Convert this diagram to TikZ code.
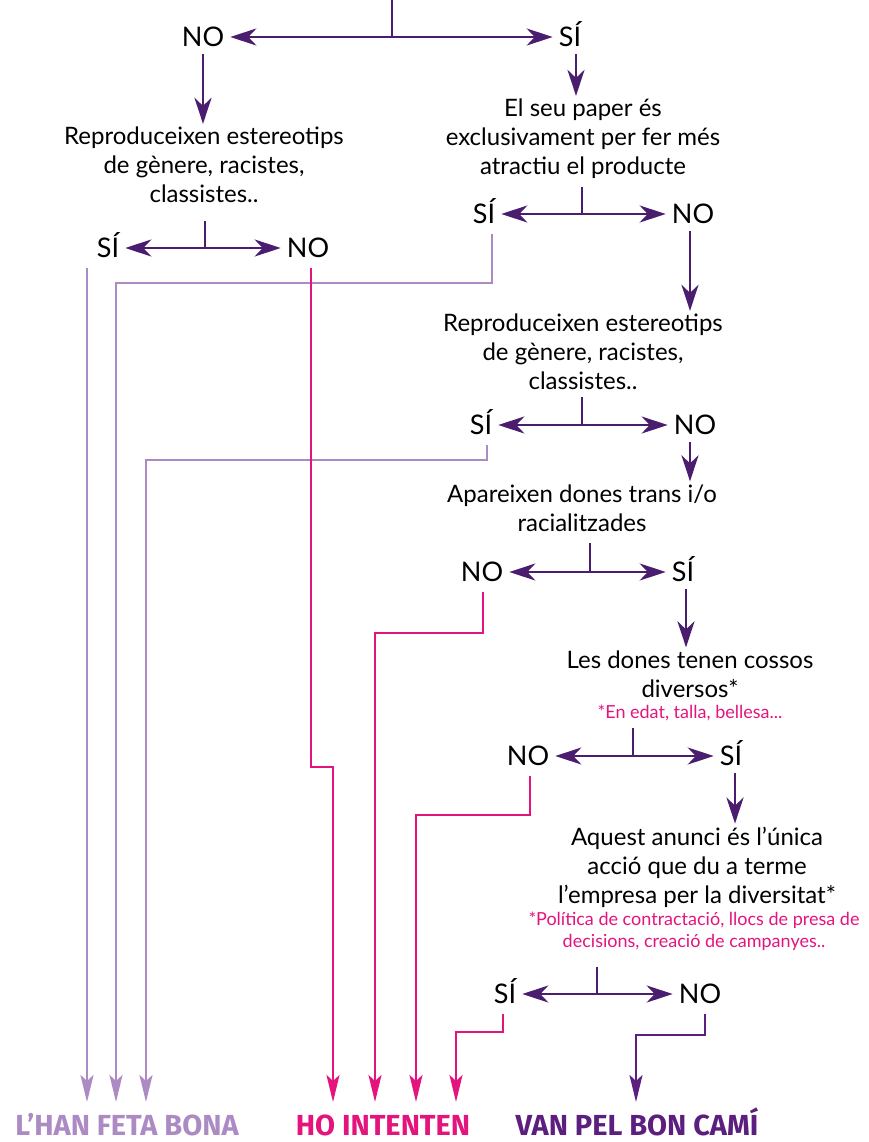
\documentclass[tikz,border=0pt]{standalone}
\usepackage{fontspec}
\setmainfont{Lato}
\newfontfamily\condfont{Fira Sans}
\usetikzlibrary{arrows.meta,calc}
\definecolor{dpurple}{HTML}{4A1D6E}
\definecolor{lpurple}{HTML}{AC8AC4}
\definecolor{hot}{HTML}{E4147E}
\definecolor{vpurple}{HTML}{5C1F80}
\tikzset{
  tipA/.tip={Stealth[length=26pt,width=17pt,inset=8pt]},
  tipB/.tip={Stealth[length=27pt,width=13pt,inset=6pt]},
  stem/.style={draw=dpurple,line width=2.8pt},
  arr/.style={draw=dpurple,line width=2.8pt,-tipA,shorten <=4pt,shorten >=3pt},
  fork/.style={draw=dpurple,line width=2.8pt,tipA-tipA,shorten <=3pt,shorten >=3pt},
  route/.style={line width=2.6pt,-tipB,shorten <=7pt},
  lp/.style={route,draw=lpurple},
  mg/.style={route,draw=hot},
  vp/.style={route,draw=vpurple},
  q/.style={font=\fontsize{24}{29}\selectfont,align=center,text=black,inner sep=0pt},
  yn/.style={font=\fontsize{27}{30}\selectfont,text height=19.5pt,text depth=0pt,inner sep=3pt},
  fn/.style={font=\fontsize{18}{22}\selectfont,align=center,text=hot,inner sep=0pt},
  res/.style={font=\condfont\bfseries\fontsize{29}{32}\selectfont,inner sep=0pt,text height=20pt,text depth=0pt,anchor=base}
}
\begin{document}
\begin{tikzpicture}[x=1pt,y=-1pt]
\useasboundingbox (0,0) rectangle (868,1142);

% ---- fork 1
\coordinate (top) at (392,0);
\coordinate (j1) at (392,37);
\node[yn] (n1) at (203,37) {NO};
\node[yn] (s1) at (570,37) {SÍ};
\draw[stem] (top) -- (j1);
\draw[fork] (n1) -- (s1);

% ---- left branch
\node[q] (t1) at (204,165) {Reproduceixen estereotips\\de gènere, racistes,\\classistes..};
\draw[arr] (n1.south) -- (n1.south |- t1.north);
\coordinate (j2) at (205,248);
\node[yn] (s2) at (108,248) {SÍ};
\node[yn] (n2) at (308,248) {NO};
\draw[stem] (j2) -- ++(0,-27);
\draw[fork] (s2) -- (n2);

% ---- right branch
\node[q] (t2) at (583,139) {El seu paper és\\exclusivament per fer més\\atractiu el producte};
\draw[arr] ([xshift=6pt]s1.south) -- ([xshift=6pt]s1.south |- t2.north);
\coordinate (j3) at (582,214);
\node[yn] (s3) at (484,214) {SÍ};
\node[yn] (n3) at (693,214) {NO};
\draw[stem] (j3) -- ++(0,-27);
\draw[fork] (s3) -- (n3);

\node[q] (t3) at (583,352) {Reproduceixen estereotips\\de gènere, racistes,\\classistes..};
\draw[arr] ([xshift=-3pt]n3.south) -- ([xshift=-3pt]n3.south |- t3.north);
\coordinate (j4) at (582,425);
\node[yn] (s4) at (481,425) {SÍ};
\node[yn] (n4) at (695,425) {NO};
\draw[stem] (j4) -- ++(0,-28);
\draw[fork] (s4) -- (n4);

\node[q] (t4) at (582,508) {Apareixen dones trans i/o\\racialitzades};
\draw[arr] ([xshift=-5pt]n4.south) -- ([xshift=-5pt]n4.south |- t4.north);
\coordinate (j5) at (590,572);
\node[yn] (n5) at (482,572) {NO};
\node[yn] (s5) at (683,572) {SÍ};
\draw[stem] (j5) -- ++(0,-29);
\draw[fork] (n5) -- (s5);

\node[q] (t5) at (690,674) {Les dones tenen cossos\\diversos*};
\node[fn] (f5) at (690,713) {*En edat, talla, bellesa...};
\draw[arr] ([xshift=3pt]s5.south) -- ([xshift=3pt]s5.south |- t5.north);
\coordinate (j6) at (633,756);
\node[yn] (n6) at (528,756) {NO};
\node[yn] (s6) at (731,756) {SÍ};
\draw[stem] (j6) -- ++(0,-28);
\draw[fork] (n6) -- (s6);

\node[q] (t6) at (697,867) {Aquest anunci és l’única\\acció que du a terme\\l’empresa per la diversitat*};
\node[fn] (f6) at (694,931) {*Política de contractació, llocs de presa de\\decisions, creació de campanyes..};
\draw[arr] ([xshift=4pt]s6.south) -- ([xshift=4pt]s6.south |- t6.north);
\coordinate (j7) at (597,994);
\node[yn] (s7) at (505,994) {SÍ};
\node[yn] (n7) at (700,994) {NO};
\draw[stem] (j7) -- ++(0,-27);
\draw[fork] (s7) -- (n7);

% ---- results
\coordinate (L1) at (87,1102);
\coordinate (L2) at (116,1102);
\coordinate (L3) at (146,1102);
\coordinate (M1) at (333,1102);
\coordinate (M2) at (375,1102);
\coordinate (M3) at (416,1102);
\coordinate (M4) at (456,1102);
\coordinate (P1) at (636,1102);
\node[res,text=lpurple] (r1) at (127,1135) {L’HAN FETA BONA};
\node[res,text=hot] (r2) at (383,1135) {HO INTENTEN};
\node[res,text=vpurple] (r3) at (637,1135) {VAN PEL BON CAMÍ};

\draw[lp] ([xshift=-21pt]s2.south) -- (L1);
\draw[lp] ([xshift=8pt]s3.south) -- ++(0,56) -| (L2);
\draw[lp] ([xshift=6pt]s4.south) -- ++(0,22) -| (L3);
\draw[mg] ([xshift=3pt]n2.south) -- ++(0,506) -| (M1);
\draw[mg] ([xshift=1pt]n5.south) -- ++(0,48) -| (M2);
\draw[mg] ([xshift=2pt]n6.south) -- ++(0,46) -| (M3);
\draw[mg] ([xshift=-2pt]s7.south) -- ++(0,25) -| (M4);
\draw[vp] ([xshift=5pt]n7.south) -- ++(0,28) -| (P1);
\end{tikzpicture}
\end{document}
